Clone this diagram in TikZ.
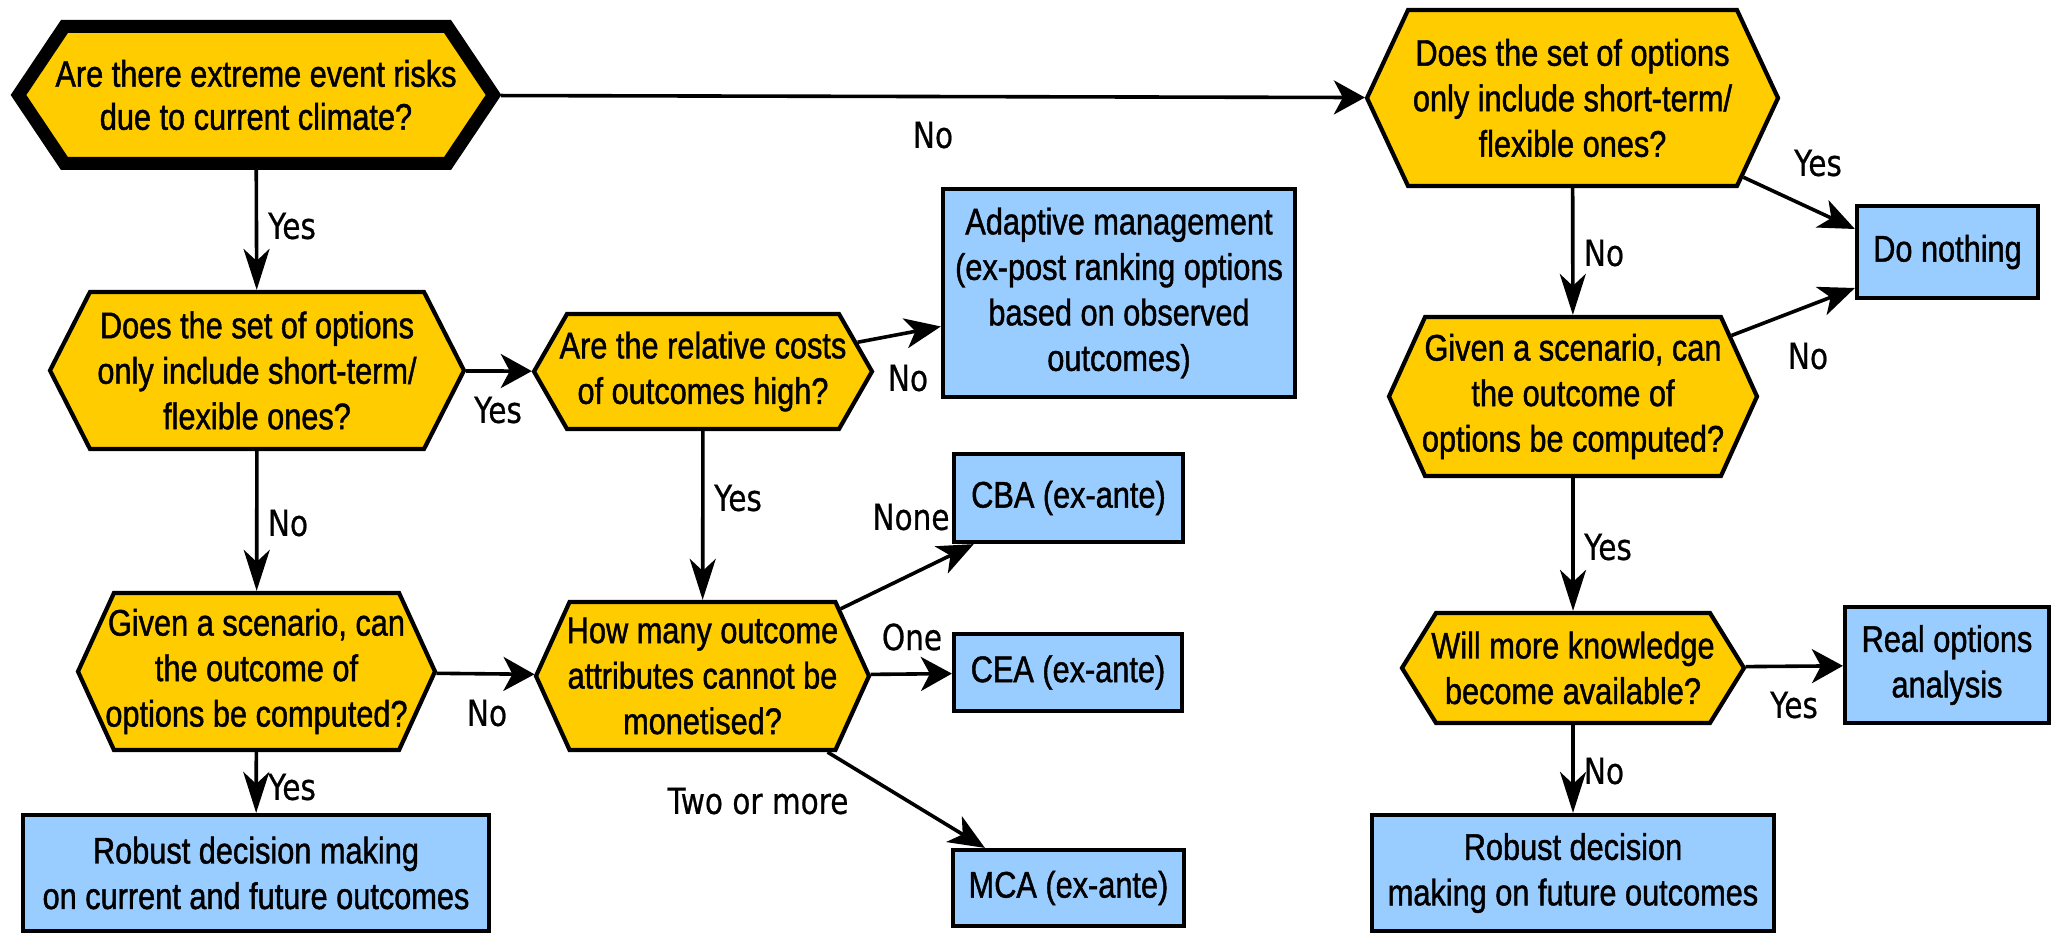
\documentclass[tikz,border=0pt]{standalone}
\usepackage{fontspec}
\setmainfont{Liberation Sans}[FakeStretch=0.83,FakeBold=1.2]
\newfontfamily\lblfont{DejaVu Sans}[FakeStretch=0.82,FakeBold=0.6]
\usetikzlibrary{shapes.symbols,arrows.meta,calc}
\definecolor{qfill}{RGB}{255,204,0}
\definecolor{afill}{RGB}{153,204,255}
\begin{document}
\begin{tikzpicture}[x=1pt,y=-1pt,
  txt/.style={font=\fontsize{37}{45.5}\selectfont, align=center,
    inner xsep=-60pt, inner ysep=0pt},
  question/.style={txt, shape=signal, signal to=east and west,
    signal from=nowhere, fill=qfill, draw=black, line width=4.2pt},
  answer/.style={txt, rectangle, fill=afill, draw=black, line width=4.2pt},
  lbl/.style={font=\fontsize{36}{42}\lblfont, inner sep=0pt},
  conn/.style={line width=3.6pt},
  harr/.style={conn, -{Stealth[length=31pt,width=34pt,inset=9pt]}},
  varr/.style={conn, -{Stealth[length=41pt,width=26pt,inset=12pt]}},
  darr/.style={conn, -{Stealth[length=36pt,width=30pt,inset=10pt]}},
]
\useasboundingbox (0,0) rectangle (2054,933);
\fill[white] (0,0) rectangle (2054,933);

% left column
\node[question, line width=13pt, font=\fontsize{37}{43}\selectfont,
  minimum width=475pt, minimum height=137pt, signal pointer angle=112.3]
  (q1) at (256,95) {Are there extreme event risks\\due to current climate?};
\node[question, minimum width=414pt, minimum height=157pt, signal pointer angle=126]
  (q2) at (257,370.5) {Does the set of options\\only include short-term/\\flexible ones?};
\node[question, minimum width=357pt, minimum height=157pt, signal pointer angle=130.8]
  (q3) at (256.5,671.5) {Given a scenario, can\\the outcome of\\options be computed?};
\node[answer, minimum width=466pt, minimum height=116pt]
  (r1) at (256,873) {Robust decision making\\on current and future outcomes};

% middle column
\node[question, minimum width=338pt, minimum height=115pt, signal pointer angle=120.3]
  (q4) at (703,371.5) {Are the relative costs\\of outcomes high?};
\node[answer, minimum width=352pt, minimum height=208pt]
  (a) at (1119,293) {Adaptive management\\(ex-post ranking options\\based on observed\\outcomes)};
\node[question, minimum width=333pt, minimum height=148pt, signal pointer angle=131.2]
  (q5) at (702.5,676) {How many outcome\\attributes cannot be\\monetised?};
\node[answer, minimum width=229pt, minimum height=88pt] (cba) at (1068.5,498) {CBA (ex-ante)};
\node[answer, minimum width=228pt, minimum height=77pt] (cea) at (1068,672.5) {CEA (ex-ante)};
\node[answer, minimum width=231pt, minimum height=76pt] (mca) at (1068.5,888) {MCA (ex-ante)};

% right column
\node[question, minimum width=411pt, minimum height=176pt, signal pointer angle=130]
  (q2r) at (1572.5,98) {Does the set of options\\only include short-term/\\flexible ones?};
\node[question, minimum width=368pt, minimum height=159pt, signal pointer angle=131.2]
  (q3r) at (1573,396.5) {Given a scenario, can\\the outcome of\\options be computed?};
\node[answer, minimum width=181pt, minimum height=92pt] (dn) at (1947.5,252) {Do nothing};
\node[question, minimum width=342pt, minimum height=110pt, signal pointer angle=116.5]
  (q4r) at (1573,668) {Will more knowledge\\become available?};
\node[answer, minimum width=204pt, minimum height=116pt] (ro) at (1947,665) {Real options\\analysis};
\node[answer, minimum width=402pt, minimum height=116pt]
  (r2) at (1573,873) {Robust decision\\making on future outcomes};

% connectors
\draw[harr] (q1) -- (q2r);
\draw[varr] (q1) -- (q2);
\draw[harr] (q2) -- (q4);
\draw[varr] (q2) -- (q3);
\draw[harr] (q3) -- (q5);
\draw[varr] (q3) -- (r1);
\draw[darr] (q4) -- (a);
\draw[varr] (q4) -- (q5);
\draw[darr] (q5) -- (cba);
\draw[harr] (q5) -- (cea);
\draw[darr] (q5) -- ($(mca.north west)+(34,0)$);
\draw[darr] (q2r) -- ($(dn.west)+(0,-23)$);
\draw[varr] (q2r) -- (q3r);
\draw[darr] (q3r) -- ($(dn.west)+(0,36)$);
\draw[varr] (q3r) -- (q4r);
\draw[harr] (q4r) -- (ro);
\draw[varr] (q4r) -- (r2);

% branch labels
\node[lbl] (l1) at (933,135) {No};
\node[lbl] (l2) at (292,226) {Yes};
\node[lbl] (l3) at (498,410) {Yes};
\node[lbl] (l4) at (288,523) {No};
\node[lbl] (l5) at (487,713) {No};
\node[lbl] (l6) at (292,787) {Yes};
\node[lbl] (l7) at (908,378) {No};
\node[lbl] (l8) at (738,498) {Yes};
\node[lbl] (l9) at (911,517) {None};
\node[lbl] (l10) at (912,637) {One};
\node[lbl] (l11) at (758,801) {Two or more};
\node[lbl] (l12) at (1818,163) {Yes};
\node[lbl] (l13) at (1604,253) {No};
\node[lbl] (l14) at (1808,356) {No};
\node[lbl] (l15) at (1608,547) {Yes};
\node[lbl] (l16) at (1794,705) {Yes};
\node[lbl] (l17) at (1604,771) {No};
\end{tikzpicture}
\end{document}
